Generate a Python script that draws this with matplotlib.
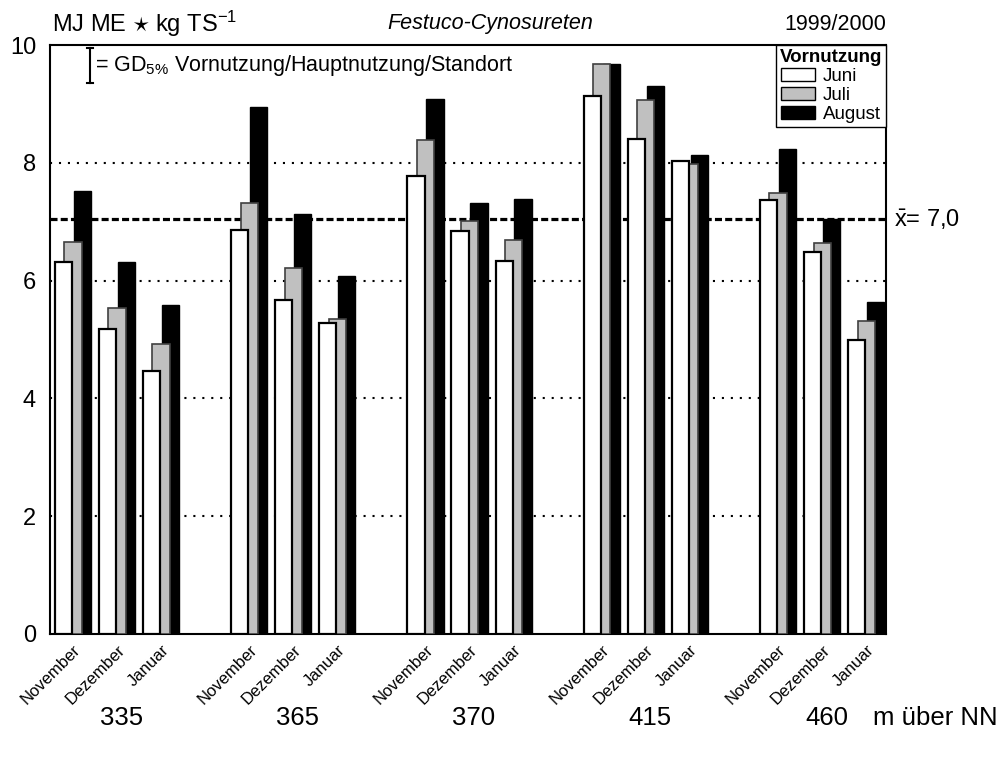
import matplotlib
matplotlib.use("Agg")
import matplotlib.pyplot as plt
from matplotlib.patches import Patch
import numpy as np

plt.rcParams['font.family'] = ['Liberation Sans', 'DejaVu Sans']
plt.rcParams['mathtext.fontset'] = 'custom'
plt.rcParams['mathtext.rm'] = 'Liberation Sans'
plt.rcParams['mathtext.it'] = 'Liberation Sans:italic'

# Daten
standorte = ['335', '365', '370', '415', '460']
monate = ['November', 'Dezember', 'Januar']
juni = [6.31, 5.18, 4.47, 6.86, 5.67, 5.28, 7.77, 6.85, 6.34,
        9.14, 8.40, 8.03, 7.37, 6.49, 4.99]
juli = [6.65, 5.53, 4.92, 7.31, 6.21, 5.35, 8.39, 7.01, 6.69,
        9.67, 9.07, 7.98, 7.49, 6.64, 5.32]
august = [7.52, 6.32, 5.59, 8.95, 7.13, 6.07, 9.09, 7.32, 7.38,
          9.67, 9.30, 8.14, 8.24, 7.04, 5.63]
mittel = 7.05
gd5 = (9.35, 9.95)

W, H = 1002, 757
fig = plt.figure(figsize=(W / 100, H / 100), dpi=100)
ax = fig.add_axes([50 / W, 1 - 634 / H, (886 - 50) / W, (634 - 45) / H])

# Positionen: 3 Monate je Standort, eine Lücke dazwischen
pos = np.array([g * 4 + m for g in range(len(standorte)) for m in range(3)])
off = 0.215
bw = 0.39

ax.bar(pos + off, august, bw, color='black', edgecolor='black', lw=1, zorder=2)
ax.bar(pos, juli, bw, color='#c0c0c0', edgecolor='#404040', lw=1.2, zorder=3)
ax.bar(pos - off, juni, bw, color='white', edgecolor='black', lw=1.6, zorder=4)

# Gitterlinien
for yv in [2, 4, 6, 8]:
    ax.axhline(yv, color='black', lw=1.5, dashes=(1, 3.3), zorder=1)
ax.axhline(mittel, color='black', lw=2.3, dashes=(2.2, 1.0), zorder=1)

ax.set_xlim(-0.52, 18.45)
ax.set_ylim(0, 10)
ax.set_yticks([0, 2, 4, 6, 8, 10])
ax.tick_params(axis='y', length=0, labelsize=17, pad=10)
ax.set_xticks(pos, monate * len(standorte), rotation=45, ha='right',
              rotation_mode='anchor', fontsize=12)
ax.tick_params(axis='x', length=0, pad=6)
for sp in ax.spines.values():
    sp.set_linewidth(1.5)

# Standortbeschriftung
for g, s in enumerate(standorte):
    ax.text(g * 4 + 1.1, -0.143, s, transform=ax.get_xaxis_transform(),
            ha='center', va='center', fontsize=18.5)
fig.text(873 / W, 1 - 718 / H, 'm über NN', ha='left', va='center', fontsize=18.5)

# GD-Balken
gx = 0.38
ax.plot([gx, gx], gd5, color='black', lw=1.5, clip_on=False, zorder=5)
ax.plot([gx - 0.07, gx + 0.07], [gd5[0]] * 2, color='black', lw=1.5, zorder=5)
ax.plot([gx - 0.07, gx + 0.07], [gd5[1]] * 2, color='black', lw=1.5, zorder=5)
ax.text(gx + 0.12, 9.65, '= GD$_{5\\%}$ Vornutzung/Hauptnutzung/Standort',
        ha='left', va='center', fontsize=15.5)

# Kopfzeile
fig.text(52 / W, 1 - 24 / H, 'MJ ME $\\star$ kg TS$^{-1}$', ha='left', va='center', fontsize=17)
fig.text(490 / W, 1 - 24 / H, 'Festuco-Cynosureten', ha='center', va='center',
         fontsize=15.5, style='italic')
fig.text(886 / W, 1 - 24 / H, '1999/2000', ha='right', va='center', fontsize=15.5)

# Mittelwert
fig.text(894 / W, 1 - 220 / H, '$\\bar{\\mathrm{x}}$= 7,0', ha='left', va='center', fontsize=17)

# Legende
handles = [Patch(facecolor='white', edgecolor='black', label='Juni'),
           Patch(facecolor='#c0c0c0', edgecolor='black', label='Juli'),
           Patch(facecolor='black', edgecolor='black', label='August')]
leg = ax.legend(handles=handles, title='Vornutzung', loc='upper right',
                borderaxespad=0, fontsize=13.5, title_fontsize=13.5,
                fancybox=False, edgecolor='black', framealpha=1,
                handlelength=1.8, handleheight=0.7, handletextpad=0.4,
                labelspacing=0.1, borderpad=0.2)
leg.get_title().set_fontweight('bold')
leg.get_frame().set_linewidth(1)

fig.savefig('out.png', dpi=100)
